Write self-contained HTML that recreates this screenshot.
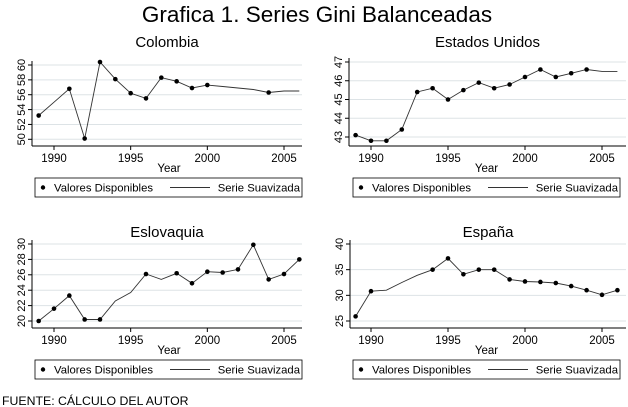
<!DOCTYPE html>
<html><head><meta charset="utf-8">
<style>
html,body{margin:0;padding:0;background:#fff;}
svg{display:block;font-family:"Liberation Sans",Arial,sans-serif;}
</style></head>
<body>
<svg id="chart" width="628" height="407" viewBox="0 0 628 407">
<text x="317" y="22" text-anchor="middle" font-size="22.5" fill="#000">Grafica 1. Series Gini Balanceadas</text>
<text x="2" y="405" font-size="12.3" fill="#000">FUENTE: CÁLCULO DEL AUTOR</text>
</svg>
<script>
const years = [1989,1990,1991,1992,1993,1994,1995,1996,1997,1998,1999,2000,2001,2002,2003,2004,2005,2006];
const colombiaLine = [53.2,55.0,56.8,50.1,60.4,58.1,56.2,55.5,58.3,57.8,56.9,57.3,57.1,56.9,56.7,56.3,56.5,56.5];
const colombiaPts = [1,0,1,1,1,1,1,1,1,1,1,1,0,0,0,1,0,0];
const usaLine = [43.1,42.8,42.8,43.4,45.4,45.6,45.0,45.5,45.9,45.6,45.8,46.2,46.6,46.2,46.4,46.6,46.5,46.5];
const usaPts = [1,1,1,1,1,1,1,1,1,1,1,1,1,1,1,1,0,0];
const slovakLine = [20.0,21.6,23.3,20.2,20.2,22.6,23.7,26.1,25.4,26.2,24.9,26.4,26.3,26.7,29.9,25.4,26.1,28.0];
const slovakPts = [1,1,1,1,1,0,0,1,0,1,1,1,1,1,1,1,1,1];
const spainLine = [25.9,30.8,31.0,32.5,33.9,35.0,37.2,34.1,35.0,35.0,33.1,32.7,32.6,32.4,31.8,31.0,30.1,31.0];
const spainPts = [1,1,0,0,0,1,1,1,1,1,1,1,1,1,1,1,1,1];
const colombiaTicks = [50,52,54,56,58,60];
const usaTicks = [43,44,45,46,47];
const slovakTicks = [20,22,24,26,28,30];
const spainTicks = [25,30,35,40];
const xTicks = [1990,1995,2000,2005];

const NS="http://www.w3.org/2000/svg";
const svg=document.getElementById('chart');
function mk(tag,attrs,parent){const e=document.createElementNS(NS,tag);for(const k in attrs)e.setAttribute(k,attrs[k]);(parent||svg).appendChild(e);return e;}

const panels=[
 {name:'colombia',title:'Colombia',line:colombiaLine,pts:colombiaPts,ticks:colombiaTicks,ax:32,x1990:54,x2005:284,yLo:139.3,yHi:65,vLo:50,vHi:60,bottom:146,right:302,top:37,legX:35,legY:178},
 {name:'estados-unidos',title:'Estados Unidos',line:usaLine,pts:usaPts,ticks:usaTicks,ax:349,x1990:371,x2005:602,yLo:137,yHi:62,vLo:43,vHi:47,bottom:146,right:626,top:37,legX:353,legY:178},
 {name:'eslovaquia',title:'Eslovaquia',line:slovakLine,pts:slovakPts,ticks:slovakTicks,ax:32,x1990:54,x2005:284,yLo:321,yHi:244,vLo:20,vHi:30,bottom:328,right:302,top:227,legX:35,legY:360},
 {name:'espana',title:'España',line:spainLine,pts:spainPts,ticks:spainTicks,ax:350,x1990:371,x2005:602,yLo:321,yHi:244,vLo:25,vHi:40,bottom:328,right:626,top:227,legX:353,legY:360}
];

panels.forEach(p=>{
  const g=mk('g',{});
  
  
  const xs=y=>p.x1990+(y-1990)*(p.x2005-p.x1990)/15;
  const ys=v=>p.yLo+(v-p.vLo)*(p.yHi-p.yLo)/(p.vHi-p.vLo);
  const cx=(p.ax+p.right)/2;
  const t=mk('text',{x:cx,y:p.top+10,'text-anchor':'middle','font-size':15,fill:'#000'},g);
  t.textContent=p.title;
  
  
  p.ticks.forEach(v=>{
    const y=ys(v);
    const gl=mk('line',{x1:p.ax,x2:p.right,y1:y,y2:y,stroke:'#dde3e6','stroke-width':1},g);
    
    
    mk('line',{x1:p.ax-4,x2:p.ax,y1:y,y2:y,stroke:'#000'},g);
    const tl=mk('text',{x:p.ax-7,y:y,'text-anchor':'middle','font-size':11,fill:'#000',transform:'rotate(-90 '+(p.ax-7)+' '+y+')'},g);
    tl.textContent=v;
    
    
  });
  const ya=mk('line',{x1:p.ax,x2:p.ax,y1:p.yHi-4,y2:p.bottom,stroke:'#000'},g);
  
  
  const xa=mk('line',{x1:p.ax,x2:p.right,y1:p.bottom,y2:p.bottom,stroke:'#000'},g);
  
  
  xTicks.forEach(yr=>{
    const x=xs(yr);
    mk('line',{x1:x,x2:x,y1:p.bottom,y2:p.bottom+4,stroke:'#000'},g);
    const tl=mk('text',{x:x,y:p.bottom+16,'text-anchor':'middle','font-size':11.5,fill:'#000'},g);
    tl.textContent=yr;
    
    
  });
  const xt=mk('text',{x:(p.x1990+p.x2005)/2,y:p.bottom+26,'text-anchor':'middle','font-size':11.5,fill:'#000'},g);
  xt.textContent='Year';
  
  
  const d=years.map((yr,i)=>(i?'L':'M')+xs(yr).toFixed(1)+' '+ys(p.line[i]).toFixed(1)).join(' ');
  const path=mk('path',{d:d,fill:'none',stroke:'#333','stroke-width':0.9},g);
  
  
  years.forEach((yr,i)=>{
    if(!p.pts[i])return;
    const c=mk('circle',{cx:xs(yr),cy:ys(p.line[i]),r:2.3,fill:'#000'},g);
    
    
  });
  const lg=mk('g',{},g);
  
  
  mk('rect',{x:p.legX,y:p.legY,width:267,height:19,fill:'#fff',stroke:'#000','stroke-width':0.8},lg);
  mk('circle',{cx:p.legX+8,cy:p.legY+9.5,r:2.2,fill:'#000'},lg);
  const l1=mk('text',{x:p.legX+19,y:p.legY+13.5,'font-size':11.3,fill:'#000'},lg);
  l1.textContent='Valores Disponibles';
  
  
  mk('line',{x1:p.legX+135,x2:p.legX+175,y1:p.legY+9.5,y2:p.legY+9.5,stroke:'#333','stroke-width':0.9},lg);
  const l2=mk('text',{x:p.legX+265,y:p.legY+13.5,'font-size':11.3,fill:'#000','text-anchor':'end'},lg);
  l2.textContent='Serie Suavizada';
  
  
});
</script>
</body></html>
